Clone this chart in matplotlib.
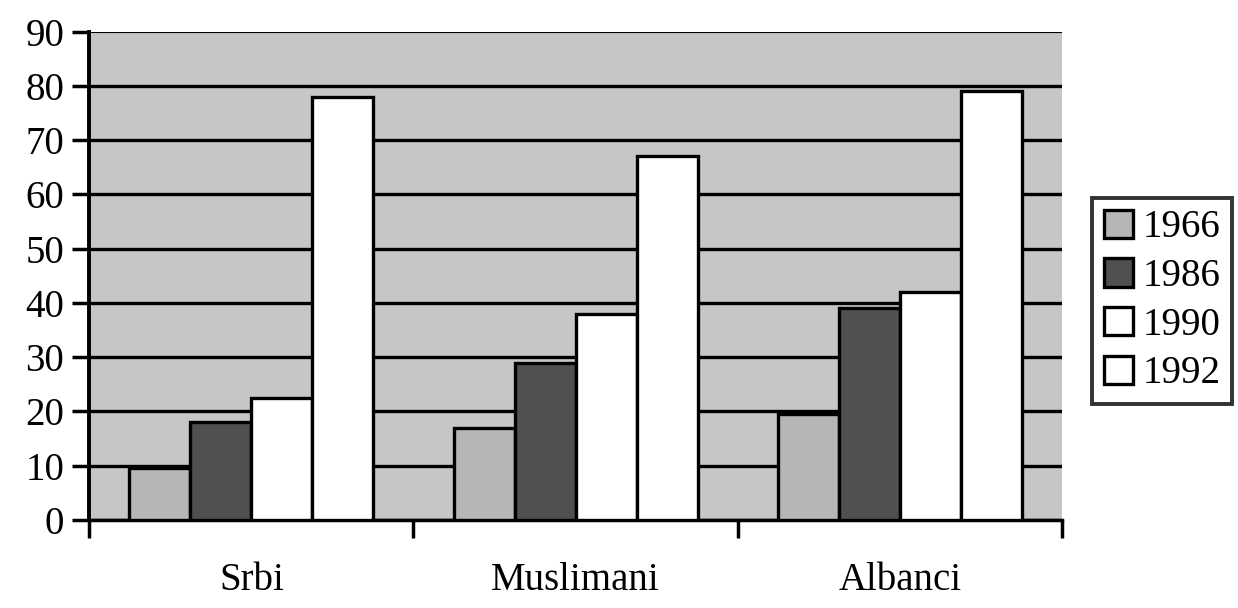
import numpy as np
import matplotlib
matplotlib.use("Agg")
import matplotlib.pyplot as plt

# data
groups = ["Srbi", "Muslimani", "Albanci"]
years = ["1966", "1986", "1990", "1992"]
v1966 = [9.5, 17, 19.5]
v1986 = [18, 29, 39]
v1990 = [22.5, 38, 42]
v1992 = [78, 67, 79]

plt.rcParams["font.family"] = ["Liberation Serif", "DejaVu Serif"]

fig = plt.figure(figsize=(12.38, 6.08), dpi=100)
ax = fig.add_axes([0.072, 0.145, 0.786, 0.803])

colors = ["#b6b6b6", "#505050", "#ffffff", "#ffffff"]
series = [v1966, v1986, v1990, v1992]
x = np.arange(len(groups))
w = 0.188
for i, (vals, c, lab) in enumerate(zip(series, colors, years)):
    ax.bar(x + (i - 1.5) * w, vals, w, color=c, edgecolor="black",
           linewidth=2.4, label=lab, zorder=3)

ax.set_facecolor("#c6c6c6")
ax.set_ylim(0, 90)
ax.set_xlim(-0.5, 2.5)
ax.set_yticks(np.arange(0, 91, 10))
ax.yaxis.grid(True, color="black", linewidth=2.4, zorder=1)
ax.set_axisbelow(True)
ax.yaxis.get_gridlines()[-1].set_linewidth(0.8)

ax.set_xticks([-0.5, 0.5, 1.5, 2.5], minor=False)
ax.set_xticklabels([])
ax.set_xticks(x, minor=True)
ax.set_xticklabels(groups, minor=True, fontsize=28)
ax.tick_params(axis="x", which="minor", length=0, pad=30)
ax.tick_params(axis="x", which="major", length=13, width=2.5, direction="out")
ax.tick_params(axis="y", length=12, width=2.5, labelsize=28, pad=6)

for s in ["top", "right"]:
    ax.spines[s].set_visible(False)
ax.spines["left"].set_linewidth(2.8)
ax.spines["bottom"].set_linewidth(2.5)

leg = fig.legend(loc="center left", bbox_to_anchor=(0.882, 0.505),
                 fontsize=28, frameon=True, fancybox=False,
                 handlelength=0.75, handleheight=0.75, handletextpad=0.25,
                 borderpad=0.3, labelspacing=0.3, borderaxespad=0)
leg.get_frame().set_edgecolor("black")
leg.get_frame().set_linewidth(2.8)

fig.savefig("out.png", dpi=100)
